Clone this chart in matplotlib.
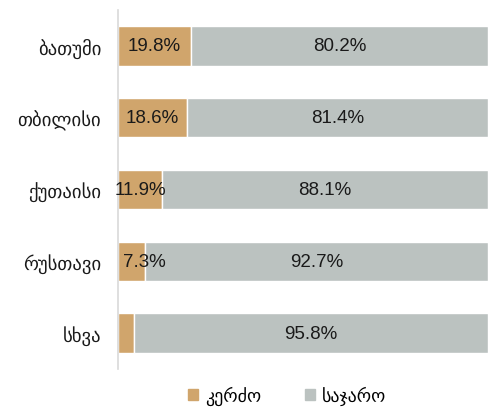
import matplotlib
matplotlib.use('Agg')
import matplotlib.pyplot as plt
from matplotlib.patches import Patch

# მონაცემები
cities = ['ბათუმი', 'თბილისი', 'ქუთაისი', 'რუსთავი', 'სხვა']
private = [19.8, 18.6, 11.9, 7.3, 4.2]
public = [80.2, 81.4, 88.1, 92.7, 95.8]
series_names = ['კერძო', 'საჯარო']

fonts = ['Liberation Sans', 'DejaVu Sans']
c_private = '#D0A56C'
c_public = '#BBC2C0'

fig = plt.figure(figsize=(4.98, 4.10), dpi=100)
ax = fig.add_axes([118 / 498, 1 - 370 / 410, 370 / 498, 359 / 410])

y = range(len(cities))
ax.barh(y, private, height=0.55, color=c_private, edgecolor='white', linewidth=1)
ax.barh(y, public, left=private, height=0.55, color=c_public, edgecolor='white', linewidth=1)

# ნიშნულები
for i, (a, b) in enumerate(zip(private, public)):
    if a >= 10:
        ax.text(a / 2, i, f'{a}%', ha='center', va='center', fontsize=13.5, family=fonts, color='#1a1a1a')
    elif a >= 5:
        ax.text(1.4, i, f'{a}%', ha='left', va='center', fontsize=13.5, family=fonts, color='#1a1a1a')
    ax.text(a + b / 2, i, f'{b}%', ha='center', va='center', fontsize=13.5, family=fonts, color='#1a1a1a')

ax.set_xlim(0, 100)
ax.set_ylim(len(cities) - 0.5, -0.5)
ax.set_yticks(list(y))
ax.set_yticklabels(cities, fontsize=13.5, family=fonts, color='#1a1a1a')
ax.set_xticks([])
ax.tick_params(axis='y', length=0, pad=12)
for s in ['top', 'right', 'bottom']:
    ax.spines[s].set_visible(False)
ax.spines['left'].set_color('#d9d9d9')
ax.spines['left'].set_linewidth(1.2)

handles = [Patch(color=c_private), Patch(color=c_public)]
fig.legend(handles, series_names, loc='center', bbox_to_anchor=(0.577, 1 - 396 / 410),
           ncol=2, frameon=False, prop={'family': fonts, 'size': 13},
           handlelength=0.55, handleheight=0.55, handletextpad=0.4, columnspacing=2.4)

fig.savefig('out.png', dpi=100)
